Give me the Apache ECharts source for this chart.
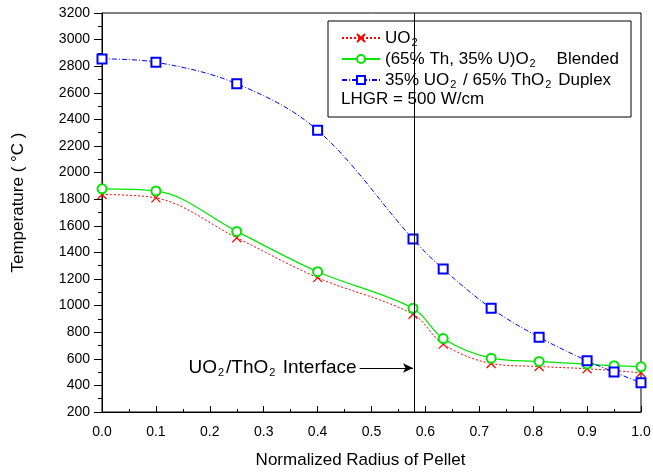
<!DOCTYPE html>
<html>
<head>
<meta charset="utf-8">
<script src="https://cdn.jsdelivr.net/npm/echarts@6/dist/echarts.min.js"></script>
<style>
  html, body { margin: 0; padding: 0; background: #fff; }
  #chart { width: 653px; height: 472px; }
</style>
</head>
<body>
<div id="chart"></div>
<script>
// values
var uo2Radius = [0.0, 0.1, 0.25, 0.4, 0.577, 0.633, 0.722, 0.811, 0.9, 1.0]
var uo2Temp = [1835, 1810, 1510, 1210, 935, 710, 565, 542, 525, 495]

var blendRadius = [0.0, 0.1, 0.25, 0.4, 0.577, 0.633, 0.722, 0.811, 0.9, 0.95, 1.0]
var blendTemp = [1878, 1862, 1558, 1255, 980, 752, 605, 580, 560, 548, 540]

var duplexRadius = [0.0, 0.1, 0.25, 0.4, 0.577, 0.633, 0.722, 0.811, 0.9, 0.95, 1.0]
var duplexTemp = [2855, 2830, 2668, 2318, 1500, 1275, 980, 762, 585, 500, 420]

var interfaceRadius = 0.577
var arrowTemp = 531
var arrowStart = 0.478

var names = ['UO2', '(65% Th, 35% U)O2  Blended', '35% UO2 / 65% ThO2 Duplex']

function zip (xs, ys) {
  var out = []
  for (let i = 0; i < xs.length; i++) {
    out.push([xs[i], ys[i]])
  }
  return out
}

// text with lowered "2" subscripts
function subRich (size) {
  return {
    n: { fontSize: size, lineHeight: 20, color: '#000', fontFamily: 'Liberation Sans' },
    s: { fontSize: 11, lineHeight: 11, color: '#000', fontFamily: 'Liberation Sans', padding: [9, 2, 0, 1] }
  }
}

function legendText (name) {
  if (name === names[0]) return '{n|UO}{s|2}'
  if (name === names[1]) return '{n|(65% Th, 35% U)O}{s|2}{n|    Blended}'
  return '{n|35% UO}{s|2}{n| / 65% ThO}{s|2}{n| Duplex}'
}

var chart = echarts.init(document.getElementById('chart'))

var option = {
  animation: false,
  backgroundColor: '#fff',
  textStyle: { fontFamily: 'Liberation Sans', color: '#000' },
  grid: {
    left: 102,
    right: 12,
    top: 13,
    bottom: 60,
    outerBoundsMode: 'none',
    show: true,
    borderColor: '#000',
    borderWidth: 1
  },
  legend: {
    data: names,
    orient: 'vertical',
    left: 336,
    top: 23,
    itemWidth: 38,
    itemHeight: 10,
    itemGap: 1,
    formatter: legendText,
    textStyle: { rich: subRich(17) }
  },
  graphic: [{
    type: 'rect',
    z: 3,
    shape: { x: 328, y: 21, width: 303, height: 96 },
    style: { fill: '#fff', stroke: '#000', lineWidth: 1 }
  }, {
    type: 'text',
    z: 5,
    left: 341,
    top: 91,
    style: { text: 'LHGR = 500 W/cm', fontSize: 17, fontFamily: 'Liberation Sans', fill: '#000' }
  }],
  xAxis: {
    type: 'value',
    min: 0,
    max: 1,
    interval: 0.1,
    name: 'Normalized Radius of Pellet',
    nameLocation: 'middle',
    nameGap: 40,
    nameTextStyle: { fontSize: 17, color: '#000', padding: [0, 22, 0, 0] },
    axisLine: { lineStyle: { color: '#000', width: 1 } },
    axisTick: { inside: true, length: 6, lineStyle: { color: '#000' } },
    minorTick: { show: true, splitNumber: 2, length: 3, lineStyle: { color: '#000' } },
    axisLabel: {
      color: '#000',
      fontSize: 14,
      margin: 13,
      formatter: function (v) { return v.toFixed(1) }
    },
    splitLine: { show: false }
  },
  yAxis: {
    type: 'value',
    min: 200,
    max: 3200,
    interval: 200,
    name: 'Temperature ( \u00b0C )',
    nameLocation: 'middle',
    nameGap: 75,
    nameTextStyle: { fontSize: 17, color: '#000', padding: [0, 0, 0, 20] },
    axisLine: { show: true, lineStyle: { color: '#000', width: 1 } },
    axisTick: { show: true, length: 8, lineStyle: { color: '#000' } },
    minorTick: { show: true, splitNumber: 2, length: 4, lineStyle: { color: '#000' } },
    axisLabel: {
      color: '#000',
      fontSize: 14,
      margin: 12,
      formatter: function (v) { return String(v) }
    },
    splitLine: { show: false }
  },
  series: [{
    name: names[0],
    type: 'line',
    smooth: 0.35,
    data: zip(uo2Radius, uo2Temp),
    symbol: 'path://M0,0L10,10M10,0L0,10',
    symbolSize: 9,
    itemStyle: { color: '#ff0000', borderColor: '#ff0000', borderWidth: 1.2 },
    lineStyle: { color: '#ff0000', width: 1, type: [2, 2] },
    markLine: {
      silent: true,
      symbol: ['none', 'arrow'],
      symbolSize: [7, 10],
      lineStyle: { color: '#000', type: 'solid', width: 1 },
      label: {
        show: true,
        position: 'start',
        distance: 3,
        formatter: '{n|UO}{s|2}{n|/ThO}{s|2}{n| Interface}',
        rich: subRich(19)
      },
      data: [[{ coord: [arrowStart, arrowTemp] }, { coord: [interfaceRadius, arrowTemp] }]]
    }
  }, {
    name: names[1],
    type: 'line',
    smooth: 0.35,
    data: zip(blendRadius, blendTemp),
    symbol: 'emptyCircle',
    symbolSize: 9,
    itemStyle: { color: '#00e600', borderWidth: 1.2 },
    lineStyle: { color: '#00e600', width: 1.2, type: 'solid' },
    markLine: {
      silent: true,
      symbol: ['none', 'none'],
      lineStyle: { color: '#000', type: 'solid', width: 1 },
      label: { show: false },
      data: [{ xAxis: interfaceRadius }]
    }
  }, {
    name: names[2],
    type: 'line',
    smooth: 0.35,
    data: zip(duplexRadius, duplexTemp),
    symbol: 'emptyRect',
    symbolSize: 9,
    itemStyle: { color: '#0000ff', borderWidth: 1.2 },
    lineStyle: { color: '#0000ff', width: 1, type: [5, 2, 1, 2] }
  }]
}

chart.setOption(option)
</script>
</body>
</html>
